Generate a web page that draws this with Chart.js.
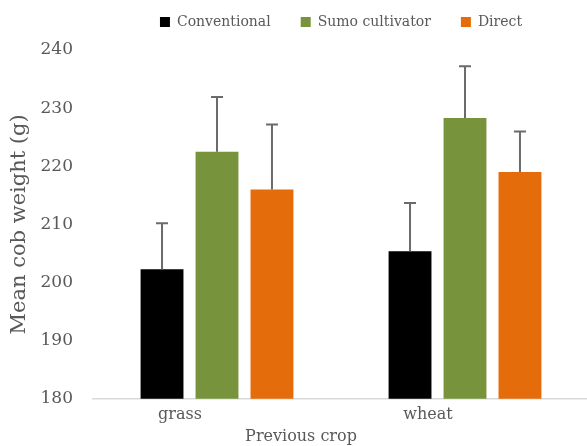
<!DOCTYPE html>
<html>
<head>
<meta charset="utf-8">
<script src="https://cdn.jsdelivr.net/npm/chart.js@4/dist/chart.umd.min.js"></script>
<style>
  html, body { margin: 0; padding: 0; background: #fff; overflow: hidden; }
  #wrap { width: 587px; height: 446px; overflow: hidden; position: relative; }
  canvas { display: block; }
</style>
</head>
<body>
<div id="wrap"><canvas id="c" width="680" height="446"></canvas></div>
<script>
const categories = ['grass', 'wheat'];
const seriesNames = ['Conventional', 'Sumo cultivator', 'Direct'];
const conventional = [202.3, 205.4];
const sumoCultivator = [222.5, 228.3];
const direct = [216.0, 219.0];
const conventionalErr = [7.9, 8.3];
const sumoCultivatorErr = [9.4, 8.9];
const directErr = [11.2, 7.0];
const yTicks = [180, 190, 200, 210, 220, 230, 240];
const xTitle = 'Previous crop';
const yTitle = 'Mean cob weight (g)';

const FONT = 'DejaVu Serif';
const TEXT = '#595959';

const errorBars = {
  id: 'errorBars',
  afterDatasetsDraw(chart) {
    const ctx = chart.ctx;
    const y = chart.scales.y;
    ctx.save();
    ctx.strokeStyle = '#6b6b6b';
    ctx.lineWidth = 2;
    chart.data.datasets.forEach((ds, i) => {
      const meta = chart.getDatasetMeta(i);
      meta.data.forEach((bar, j) => {
        const top = y.getPixelForValue(ds.data[j] + ds.errPlus[j]);
        ctx.beginPath();
        ctx.moveTo(bar.x, bar.y);
        ctx.lineTo(bar.x, top);
        ctx.moveTo(bar.x - 6, top);
        ctx.lineTo(bar.x + 6, top);
        ctx.stroke();
      });
    });
    ctx.restore();
  }
};

const legendHeight = {
  id: 'legendHeight',
  beforeInit(chart) {
    const origFit = chart.legend.fit;
    chart.legend.fit = function () {
      origFit.call(this);
      this.height += 11;
    };
  }
};

const xTitlePlugin = {
  id: 'xTitlePlugin',
  afterDraw(chart) {
    const ctx = chart.ctx;
    const a = chart.chartArea;
    ctx.save();
    ctx.font = '16px "' + FONT + '"';
    ctx.fillStyle = TEXT;
    ctx.textAlign = 'center';
    ctx.textBaseline = 'middle';
    ctx.fillText(xTitle, (a.left + a.right) / 2 - 40, chart.height - 9);
    ctx.restore();
  }
};

new Chart(document.getElementById('c'), {
  type: 'bar',
  data: {
    labels: categories,
    datasets: [
      { label: seriesNames[0], data: conventional, errPlus: conventionalErr, backgroundColor: '#000000' },
      { label: seriesNames[1], data: sumoCultivator, errPlus: sumoCultivatorErr, backgroundColor: '#77933C' },
      { label: seriesNames[2], data: direct, errPlus: directErr, backgroundColor: '#E46C0A' }
    ]
  },
  options: {
    responsive: false,
    animation: false,
    categoryPercentage: 0.665,
    barPercentage: 0.78,
    layout: { padding: { left: 7, right: 91, top: -15, bottom: 16 } },
    plugins: {
      legend: {
        position: 'top',
        fullSize: false,
        labels: {
          boxWidth: 10, boxHeight: 10, padding: 30,
          color: TEXT,
          font: { family: FONT, size: 14 }
        }
      },
      tooltip: { enabled: false }
    },
    scales: {
      x: {
        grid: { display: false, drawTicks: false },
        border: { display: true, color: '#d9d9d9', width: 1.5 },
        ticks: { color: TEXT, font: { family: FONT, size: 16 }, padding: 6, labelOffset: -37 }
      },
      y: {
        min: 180, max: 240,
        afterBuildTicks(scale) { scale.ticks = yTicks.map(v => ({ value: v })); },
        afterFit(scale) { scale.width = 86; },
        grid: { display: false, drawTicks: false },
        border: { display: false },
        ticks: { color: TEXT, font: { family: FONT, size: 17 }, padding: 20 },
        title: { display: true, text: yTitle, color: TEXT, font: { family: FONT, size: 21 }, padding: { top: 0, bottom: 10 } }
      }
    }
  },
  plugins: [errorBars, legendHeight, xTitlePlugin]
});
</script>
</body>
</html>
